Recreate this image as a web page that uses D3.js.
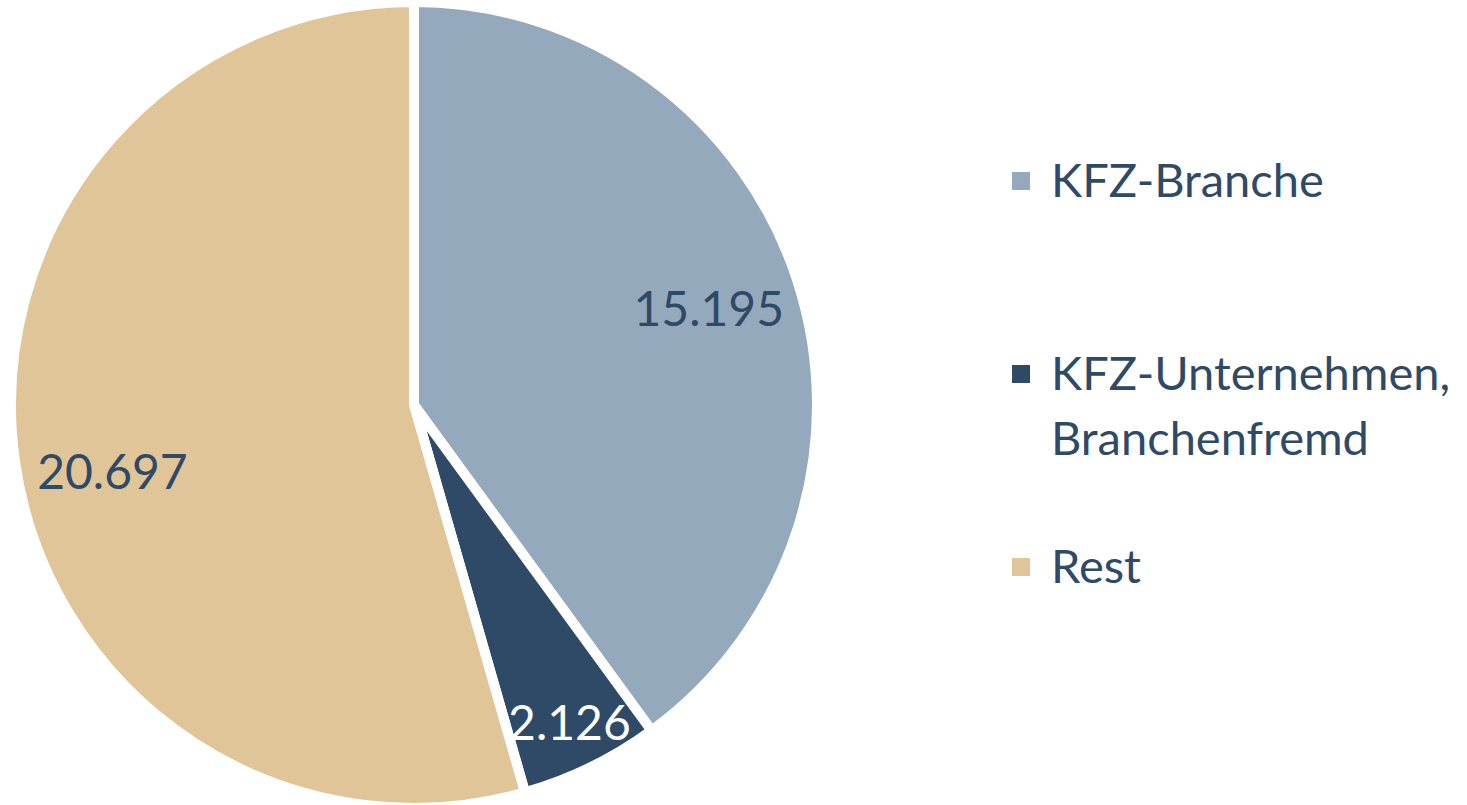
<!DOCTYPE html>
<html>
<head>
<meta charset="utf-8">
<script src="https://cdn.jsdelivr.net/npm/d3@7"></script>
<style>
  body { margin: 0; background: #fff; }
  svg { display: block; font-family: Lato, "Open Sans", sans-serif; }
</style>
</head>
<body>
<svg id="chart" width="1467" height="805"></svg>
<script>
const categories = ["KFZ-Branche", "KFZ-Unternehmen, Branchenfremd", "Rest"];
const values = [15195, 2126, 20697];
const valueLabels = ["15.195", "2.126", "20.697"];
const legendLines = [["KFZ-Branche"], ["KFZ-Unternehmen,", "Branchenfremd"], ["Rest"]];
const colors = ["#94a9bc", "#2e4a66", "#e0c599"];
const labelColors = ["#2e4a66", "#ffffff", "#2e4a66"];

const svg = d3.select("#chart");
const cx = 414, cy = 405, r = 403;
const textColor = "#2e4a66";

const pie = d3.pie().sort(null).value(d => d)(values);
const arc = d3.arc().innerRadius(0).outerRadius(r);

const g = svg.append("g").attr("transform", `translate(${cx}, ${cy})`);

g.selectAll("path")
  .data(pie)
  .join("path")
  .attr("d", arc)
  .attr("fill", (d, i) => colors[i])
  .attr("stroke", "#fff")
  .attr("stroke-width", 10)
  .attr("stroke-linejoin", "miter");

// label placement (Excel "best fit"-ish)
const labelR = [310, 354, 309];
const labelShift = [0, 0, -0.08];
g.selectAll("text.val")
  .data(pie)
  .join("text")
  .attr("class", "val")
  .attr("x", (d, i) => labelR[i] * Math.sin((d.startAngle + d.endAngle) / 2 + labelShift[i]))
  .attr("y", (d, i) => -labelR[i] * Math.cos((d.startAngle + d.endAngle) / 2 + labelShift[i]))
  .attr("dy", "0.35em")
  .attr("text-anchor", "middle")
  .attr("fill", (d, i) => labelColors[i])
  .style("font-size", "48px")
  .text((d, i) => valueLabels[i]);

const legendY = [181, 374, 567];
const legend = svg.append("g").attr("transform", "translate(1012, 0)");
legend.selectAll("g")
  .data(categories)
  .join("g")
  .attr("transform", (d, i) => `translate(0, ${legendY[i]})`)
  .each(function(d, i) {
    d3.select(this).append("rect")
      .attr("y", -9)
      .attr("width", 18)
      .attr("height", 18)
      .attr("fill", colors[i]);
    d3.select(this).append("text")
      .attr("y", 16)
      .attr("fill", textColor)
      .style("font-size", "47px")
      .selectAll("tspan")
      .data(legendLines[i])
      .join("tspan")
      .attr("x", 39)
      .attr("dy", (t, j) => j === 0 ? 0 : 65)
      .text(t => t);
  });
</script>
</body>
</html>
